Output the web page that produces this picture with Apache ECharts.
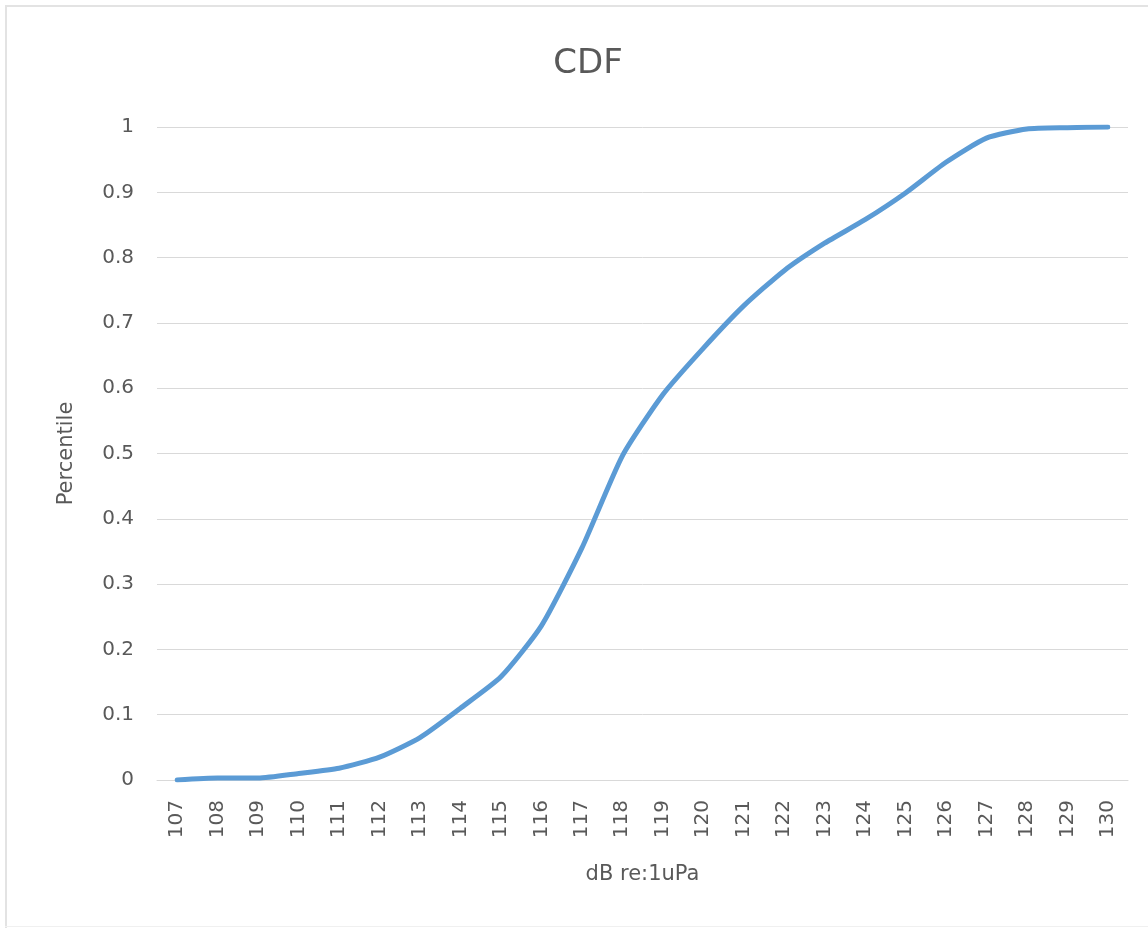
<!DOCTYPE html>
<html>
<head>
<meta charset="utf-8">
<title>CDF</title>
<script src="https://cdn.jsdelivr.net/npm/echarts@6/dist/echarts.min.js"></script>
<style>
  html, body { margin: 0; padding: 0; background: #ffffff; }
  #chart { width: 1148px; height: 928px; }
</style>
</head>
<body>
<div id="chart"></div>
<script>
// Sound level bins (dB re 1 uPa)
const levels = ['107','108','109','110','111','112','113','114','115','116','117','118',
                '119','120','121','122','123','124','125','126','127','128','129','130'];

// Cumulative fraction of samples at or below each level
const cdf = [0, 0.003, 0.003, 0.010, 0.018, 0.035, 0.065, 0.110, 0.158, 0.236, 0.355, 0.496,
             0.590, 0.661, 0.726, 0.780, 0.822, 0.858, 0.899, 0.946, 0.983, 0.997, 0.999, 1.0];

// Y axis ticks
const yMin = 0, yMax = 1, yStep = 0.1;

const textGray = '#595959';
const gridGray = '#d9d9d9';
const font = '"DejaVu Sans", sans-serif';

const chart = echarts.init(document.getElementById('chart'), null, { renderer: 'canvas' });

chart.setOption({
  backgroundColor: '#ffffff',
  animation: false,
  title: {
    text: 'CDF',
    left: 583,
    top: 42,
    textAlign: 'center',
    textStyle: { color: textGray, fontSize: 34, fontWeight: 'normal', fontFamily: font }
  },
  grid: { left: 157, right: 20, top: 127, bottom: 148, containLabel: false },
  xAxis: {
    type: 'category',
    data: levels,
    boundaryGap: true,
    name: 'dB re:1uPa',
    nameLocation: 'middle',
    nameGap: 84,
    nameTextStyle: { color: textGray, fontSize: 21, fontFamily: font },
    axisLine: { show: true, lineStyle: { color: gridGray, width: 1 } },
    axisTick: { show: false },
    axisLabel: { rotate: 90, color: textGray, fontSize: 20, fontFamily: font, margin: 20 },
    splitLine: { show: false }
  },
  yAxis: {
    type: 'value',
    min: yMin,
    max: yMax,
    interval: yStep,
    name: 'Percentile',
    nameLocation: 'middle',
    nameGap: 80,
    nameRotate: 90,
    nameTextStyle: { color: textGray, fontSize: 21, fontFamily: font },
    axisLine: { show: false },
    axisTick: { show: false },
    axisLabel: {
      color: textGray, fontSize: 20, fontFamily: font, margin: 23,
      formatter: v => String(Math.round(v * 10) / 10)
    },
    splitLine: { show: true, lineStyle: { color: gridGray, width: 1 } }
  },
  series: [{
    type: 'line',
    data: cdf,
    smooth: 0.2,
    symbol: 'none',
    lineStyle: { color: '#5b9bd5', width: 5, cap: 'round', join: 'round' }
  }],
  graphic: [
    // chart frame edges
    { type: 'rect', shape: { x: 5, y: 5, width: 2, height: 923 }, style: { fill: '#e3e3e3' }, silent: true },
    { type: 'rect', shape: { x: 5, y: 5, width: 1143, height: 2 }, style: { fill: '#e3e3e3' }, silent: true },
    { type: 'rect', shape: { x: 5, y: 926, width: 1143, height: 1 }, style: { fill: '#f0f0f0' }, silent: true }
  ]
});
</script>
</body>
</html>
